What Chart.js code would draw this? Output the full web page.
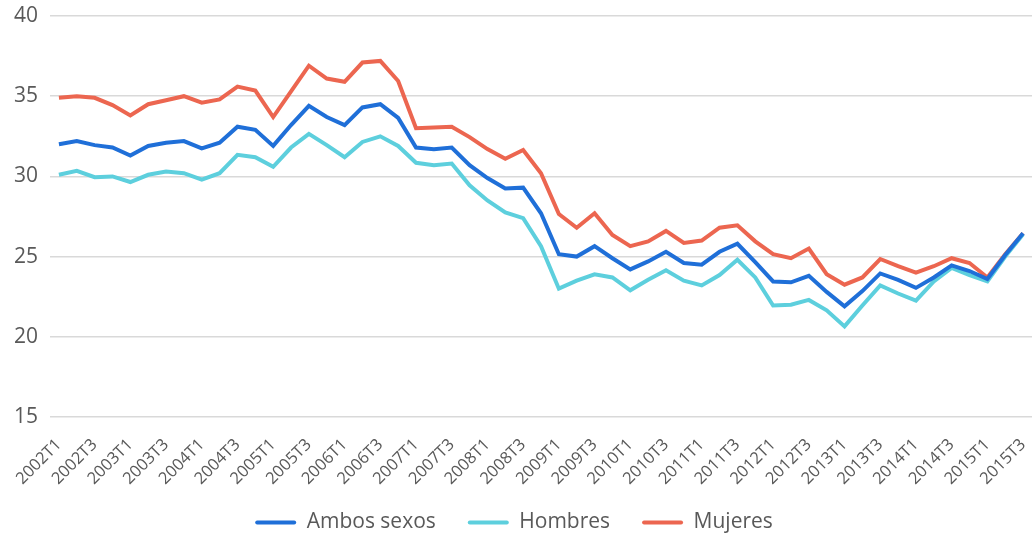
<!DOCTYPE html>
<html>
<head>
<meta charset="utf-8">
<script src="https://cdn.jsdelivr.net/npm/chart.js@4"></script>
<style>
  html, body { margin: 0; padding: 0; background: #ffffff; }
  #wrap { width: 1034px; height: 535px; position: relative; }
</style>
</head>
<body>
<div id="wrap"><canvas id="c" width="1034" height="535"></canvas></div>
<script>
const categories = [];
for (let y = 2002; y <= 2015; y++) {
  for (let q = 1; q <= 4; q++) {
    if (y === 2015 && q > 3) break;
    categories.push(y + 'T' + q);
  }
}

const ambosSexos = [32.0, 32.2, 31.95, 31.8, 31.3, 31.9, 32.1, 32.2, 31.75, 32.1, 33.1, 32.9, 31.9, 33.2, 34.4, 33.7, 33.2, 34.3, 34.5, 33.65, 31.8, 31.7, 31.8, 30.7, 29.9, 29.25, 29.3, 27.7, 25.15, 25.0, 25.65, 24.9, 24.2, 24.7, 25.3, 24.6, 24.5, 25.3, 25.8, 24.65, 23.45, 23.4, 23.8, 22.8, 21.9, 22.85, 23.95, 23.55, 23.05, 23.7, 24.45, 24.1, 23.6, 25.1, 26.45];
const hombres = [30.1, 30.35, 29.95, 30.0, 29.65, 30.1, 30.3, 30.2, 29.8, 30.2, 31.35, 31.2, 30.6, 31.8, 32.65, 31.95, 31.2, 32.15, 32.5, 31.9, 30.85, 30.7, 30.8, 29.45, 28.5, 27.75, 27.4, 25.65, 23.0, 23.5, 23.9, 23.7, 22.9, 23.55, 24.15, 23.5, 23.2, 23.85, 24.8, 23.7, 21.95, 22.0, 22.3, 21.65, 20.65, 21.95, 23.2, 22.7, 22.25, 23.45, 24.3, 23.85, 23.45, 25.0, 26.4];
const mujeres = [34.9, 35.0, 34.9, 34.45, 33.8, 34.5, 34.75, 35.0, 34.6, 34.8, 35.6, 35.35, 33.7, 35.3, 36.9, 36.1, 35.9, 37.1, 37.2, 35.95, 33.0, 33.05, 33.1, 32.45, 31.7, 31.1, 31.65, 30.2, 27.65, 26.8, 27.7, 26.35, 25.65, 25.95, 26.6, 25.85, 26.0, 26.8, 26.95, 25.95, 25.15, 24.9, 25.5, 23.9, 23.25, 23.7, 24.85, 24.4, 24.0, 24.4, 24.9, 24.6, 23.7, 25.15, 26.45];

const seriesNames = ['Ambos sexos', 'Hombres', 'Mujeres'];
const seriesColors = ['#1f6fd8', '#5dcfdd', '#ec6650'];
const yTicks = [15, 20, 25, 30, 35, 40];

const FONT = '"Open Sans", "Noto Sans", sans-serif';
const TEXT = '#595959';

function ds(label, data, color) {
  return {
    label, data,
    borderColor: color,
    backgroundColor: color,
    borderWidth: 4,
    pointRadius: 0,
    pointHoverRadius: 0,
    tension: 0,
    fill: false
  };
}

const tweakLayout = {
  id: 'tweakLayout',
  afterLayout(chart) {
    if (chart.legend) { chart.legend.left -= 9; chart.legend.right -= 9; }
    const x = chart.scales.x;
    if (x) { x.bottom += 20; x.height += 20; }
  }
};

new Chart(document.getElementById('c'), {
  type: 'line',
  data: {
    labels: categories,
    datasets: [
      ds(seriesNames[0], ambosSexos, seriesColors[0]),
      ds(seriesNames[1], hombres, seriesColors[1]),
      ds(seriesNames[2], mujeres, seriesColors[2])
    ]
  },
  plugins: [tweakLayout],
  options: {
    responsive: false,
    animation: false,
    events: [],
    layout: { padding: { left: 14, right: 2, top: 16, bottom: -8 } },
    plugins: {
      tooltip: { enabled: false },
      legend: {
        position: 'bottom',
        labels: {
          boxWidth: 41,
          boxHeight: 4,
          padding: 32,
          useBorderRadius: true,
          color: TEXT,
          font: { family: FONT, size: 21 },
          generateLabels: (chart) =>
            Chart.defaults.plugins.legend.labels.generateLabels(chart)
              .map(item => Object.assign(item, { lineWidth: 0, borderRadius: 2 }))
        }
      }
    },
    scales: {
      x: {
        offset: true,
        grid: { display: false },
        border: { display: false },
        afterFit: (axis) => { axis.paddingLeft = 0; axis.paddingRight = 0; axis.height = 63; },
        ticks: {
          autoSkip: false,
          maxRotation: 45,
          minRotation: 45,
          padding: 10,
          color: TEXT,
          font: { family: FONT, size: 16.5 },
          callback: function (v, i) { return i % 2 === 0 ? categories[i] : ''; }
        }
      },
      y: {
        min: yTicks[0],
        max: yTicks[yTicks.length - 1],
        afterBuildTicks: (axis) => { axis.ticks = yTicks.map(v => ({ value: v })); },
        afterFit: (axis) => { axis.width = 36; axis.paddingTop = 0; axis.paddingBottom = 0; },
        grid: { color: '#d9d9d9', lineWidth: 1.5, drawTicks: false },
        border: { display: false },
        ticks: {
          padding: 12,
          color: TEXT,
          font: { family: FONT, size: 21 }
        }
      }
    }
  }
});
</script>
</body>
</html>
